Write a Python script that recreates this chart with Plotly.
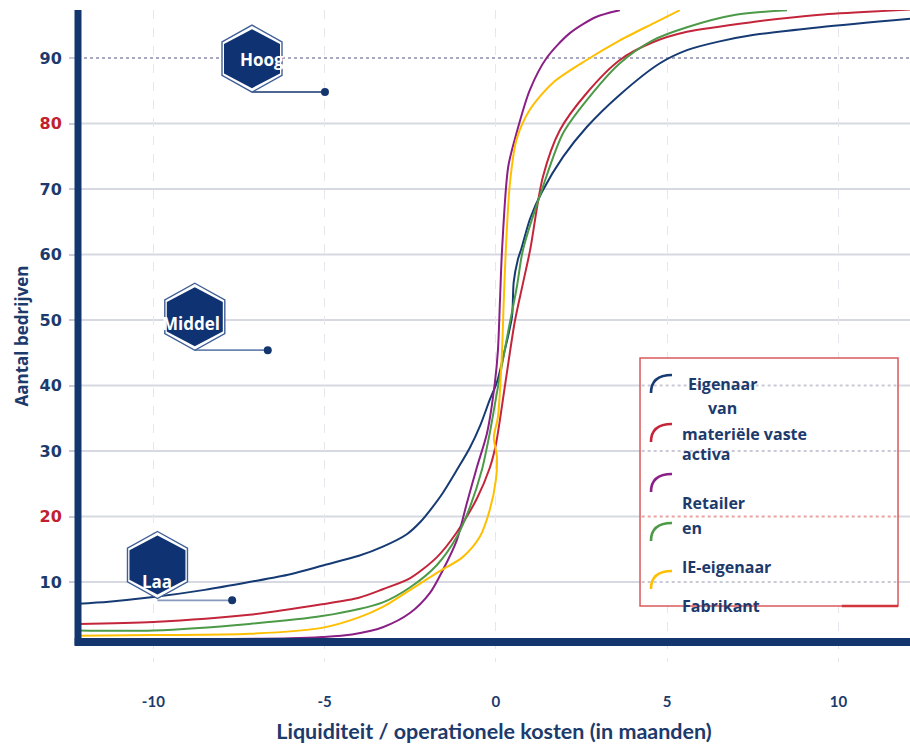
import plotly.graph_objects as go

# ---------------- data ----------------
x_ticks = [-10, -5, 0, 5, 10]
y_ticks = [10, 20, 30, 40, 50, 60, 70, 80, 90]
red_ticks = [20, 80]

series_names = ["Eigenaar van materiële vaste activa", "Retailer", "en", "IE-eigenaar", "Fabrikant"]
series_colors = ["#163a74", "#c3253a", "#8a1f86", "#4c9a47", "#ffbf00"]

blue_x = [-12.2, -11.3, -10, -8.5, -7.2, -6, -5, -4, -3.3, -2.6, -2.2, -1.9, -1.55, -1.14, -0.76,
          -0.45, -0.18, 0.03, 0.26, 0.47, 0.52, 0.64, 0.75, 1.0, 1.34, 1.96, 2.66, 3.62, 4.79,
          5.58, 6.5, 7.5, 9.46, 12.1]
blue_y = [6.7, 7.0, 7.7, 8.8, 10.0, 11.2, 12.6, 14.0, 15.4, 17.3, 19.2, 21.1, 23.6, 27.1, 30.5,
          34.0, 37.8, 40.5, 45.4, 50.5, 55.8, 59.2, 61.0, 65.5, 69.5, 74.9, 79.5, 84.4, 89.2,
          91.2, 92.5, 93.5, 94.7, 96.0]

red_x = [-12.2, -10, -7.2, -5.08, -4, -3.3, -2.5, -1.72, -1.14, -0.55, -0.18, 0.0, 0.26, 0.55,
         0.79, 1.0, 1.37, 1.87, 2.66, 3.62, 4.58, 5.58, 7.5, 9.46, 11.4, 12.1]
red_y = [3.6, 3.9, 5.0, 6.6, 7.6, 8.9, 10.6, 13.8, 17.6, 22.8, 27.4, 31.0, 39.8, 49.7,
         55.6, 60.7, 71.8, 79.0, 84.7, 89.7, 92.4, 94.0, 95.5, 96.6, 97.2, 97.4]

purple_x = [-12.2, -10, -8, -6, -5.08, -4.2, -3.3, -2.5, -1.93, -1.55, -1.14, -0.85, -0.55, -0.26,
            -0.03, 0.06, 0.12, 0.18, 0.36, 0.6, 0.99, 1.48, 2.16, 2.94, 3.62]
purple_y = [1.3, 1.3, 1.3, 1.4, 1.6, 2.0, 3.1, 5.3, 8.3, 11.8, 16.4, 22.0, 27.6, 32.7,
            40.4, 45.4, 53.0, 60.7, 73.4, 78.5, 85.1, 90.0, 93.8, 96.3, 97.3]

green_x = [-12.2, -10, -7.2, -5.08, -3.3, -2.5, -1.72, -1.14, -0.76, -0.41, -0.18, 0.06, 0.35,
           0.61, 0.79, 1.37, 1.96, 2.66, 3.62, 4.58, 5.58, 7.0, 8.5]
green_y = [2.6, 2.6, 3.6, 4.8, 6.9, 9.2, 12.6, 16.9, 21.4, 27.1, 32.7, 39.8, 48.0,
           55.0, 60.7, 70.3, 78.5, 83.6, 89.2, 92.7, 94.7, 96.6, 97.3]

yellow_x = [-12.2, -10, -7.2, -5.08, -4, -3.3, -2.5, -1.72, -0.97, -0.47, -0.18, 0.0, 0.03,
            -0.06, 0.06, 0.18, 0.23, 0.29, 0.41, 0.6, 0.99, 1.66, 2.65, 3.62, 4.6, 5.37]
yellow_y = [1.8, 1.9, 2.1, 3.0, 4.6, 6.2, 8.8, 11.4, 13.8, 16.9, 21.0, 25.6, 29.1,
            32.1, 35.2, 45.4, 53.0, 60.7, 70.9, 77.5, 82.1, 86.2, 89.7, 92.7, 95.3, 97.3]

# level badges (hexagon centre) and the point each one refers to
level_labels = ["Hoog", "Middel", "Laa"]
level_x = [-7.12, -8.79, -9.88]
level_y = [89.9, 50.5, 12.6]
point_x = [-4.99, -6.66, -7.7]
point_y = [84.8, 45.4, 7.2]

legend_lines = ["Eigenaar", "van", "materiële vaste", "activa", "Retailer", "en", "IE-eigenaar", "Fabrikant"]

# ---------------- styles ----------------
NAVY = "#14366f"
TEXT = "#1d3a6c"
RED_TXT = "#c0202f"
GRID = "#d6d9e1"

fig = go.Figure()

curves = [(blue_x, blue_y), (red_x, red_y), (purple_x, purple_y), (green_x, green_y), (yellow_x, yellow_y)]
for (xs, ys), name, col in zip(curves, series_names, series_colors):
    fig.add_trace(go.Scatter(x=xs, y=ys, mode="lines", name=name, showlegend=False,
                             line=dict(color=col, width=2, shape="spline", smoothing=0.8)))

# connectors from each badge to its point
conn_colors = [NAVY, "#6c84b0", "#8799bd"]
for hx, px, py, cc in zip(level_x, point_x, point_y, conn_colors):
    fig.add_trace(go.Scatter(x=[hx, px], y=[py, py], mode="lines", showlegend=False,
                             hoverinfo="skip", line=dict(color=cc, width=1.6)))
fig.add_trace(go.Scatter(x=point_x, y=point_y, mode="markers", showlegend=False,
                         text=level_labels, marker=dict(color=NAVY, size=8)))

shapes = []
# horizontal grid
for v in y_ticks:
    if v == 90:
        shapes.append(dict(type="line", xref="paper", x0=0, x1=1, yref="y", y0=v, y1=v,
                           layer="below", line=dict(color="#a9a9c4", width=2, dash="dot")))
    else:
        shapes.append(dict(type="line", xref="paper", x0=0, x1=1, yref="y", y0=v, y1=v,
                           layer="below", line=dict(color=GRID, width=2)))

# heavy axis bars
shapes.append(dict(type="line", xref="paper", x0=-0.004, x1=1, yref="y", y0=0.84, y1=0.84,
                   layer="above", line=dict(color=NAVY, width=8)))
shapes.append(dict(type="line", xref="paper", x0=0, x1=0, yref="y", y0=0.3, y1=97.4,
                   layer="above", line=dict(color=NAVY, width=7)))

# badges: outer outline + filled inner hexagon
def hex_path(w, h):
    return (f"M0,{h} L{w},{h/2} L{w},{-h/2} L0,{-h} L{-w},{-h/2} L{-w},{h/2} Z")

for hx, hy in zip(level_x, level_y):
    shapes.append(dict(type="path", xref="x", yref="y", xsizemode="pixel", ysizemode="pixel",
                       xanchor=hx, yanchor=hy, path=hex_path(30, 33.5), layer="above",
                       fillcolor="white", line=dict(color="#3f5f96", width=1.4)))
    shapes.append(dict(type="path", xref="x", yref="y", xsizemode="pixel", ysizemode="pixel",
                       xanchor=hx, yanchor=hy, path=hex_path(28, 29.5), layer="above",
                       fillcolor="#0f3372", line=dict(width=0)))

# custom legend box
L0, L1, B0, B1 = 0.6755, 0.9856, 0.0859, 0.4663
shapes.append(dict(type="rect", xref="paper", yref="paper", x0=L0, x1=L1, y0=B0, y1=B1,
                   layer="above", fillcolor="white", line=dict(color="#d9595a", width=1.5)))
for v in [40, 30, 20, 10]:
    col = "#eaa3a3" if v == 20 else "#c9cad6"
    shapes.append(dict(type="line", xref="paper", x0=L0 + 0.002, x1=L1 - 0.002, yref="y", y0=v, y1=v,
                       layer="above", line=dict(color=col, width=2, dash="dot")))
shapes.append(dict(type="line", xref="paper", x0=0.918, x1=L1, yref="paper", y0=B0, y1=B0,
                   layer="above", line=dict(color="#d2353a", width=2.5)))

icon_bottoms = [0.4126, 0.3374, 0.2607, 0.1856, 0.1120]
ix0, ix1, ih = 0.6887, 0.7139, 0.0276
for yb, col in zip(icon_bottoms, series_colors):
    shapes.append(dict(type="path", xref="paper", yref="paper", layer="above",
                       path=f"M{ix0},{yb} Q{ix0},{yb + ih} {ix1},{yb + ih}",
                       line=dict(color=col, width=2.6)))

annotations = []
badge_shift = [(10, -1), (-3.5, -6.5), (0, -17)]
for lab, hx, hy, (dx, dy) in zip(level_labels, level_x, level_y, badge_shift):
    annotations.append(dict(x=hx, y=hy, xref="x", yref="y", text=lab, showarrow=False,
                            xshift=dx, yshift=dy,
                            font=dict(family="Open Sans", size=17, weight=700, color="white")))

legend_pos = [(0.7752, 0.4264, "center"), (0.7752, 0.3896, "center"), (0.7236, 0.3497, "left"),
              (0.7236, 0.3190, "left"), (0.7236, 0.2439, "left"), (0.7236, 0.2055, "left"),
              (0.7236, 0.1457, "left"), (0.7236, 0.0859, "left")]
for txt, (lx, ly, anc) in zip(legend_lines, legend_pos):
    annotations.append(dict(x=lx, y=ly, xref="paper", yref="paper", text=txt, showarrow=False,
                            xanchor=anc, yanchor="middle",
                            font=dict(family="Open Sans", size=16, weight=700, color=TEXT)))

y_text = [f"<span style='color:{RED_TXT}'>{v}</span>" if v in red_ticks else str(v) for v in y_ticks]

fig.update_layout(
    width=910, height=744,
    margin=dict(l=78, r=0, t=10, b=82),
    plot_bgcolor="white", paper_bgcolor="white",
    shapes=shapes, annotations=annotations,
    xaxis=dict(range=[-12.2, 12.09], tickvals=x_ticks, ticktext=[str(v) for v in x_ticks],
               showline=False, zeroline=False, ticks="", showgrid=True,
               gridcolor="#e6e6ec", griddash="dash", gridwidth=1, ticklabelstandoff=29,
               tickfont=dict(family="Lato", size=15, weight=700, color=TEXT),
               title=dict(text="Liquiditeit / operationele kosten (in maanden)", standoff=15,
                          font=dict(family="Lato", size=21.5, weight=700, color=TEXT))),
    yaxis=dict(range=[-2.21, 97.33], tickvals=y_ticks, ticktext=y_text,
               showline=False, zeroline=False, showgrid=False,
               ticks="outside", ticklen=8, tickwidth=2, tickcolor="#c9ccd6", ticklabelstandoff=4,
               tickfont=dict(family="DejaVu Sans", size=16, weight=700, color=TEXT),
               title=dict(text="Aantal bedrijven", standoff=6,
                          font=dict(family="Open Sans", size=17, weight=700, color=TEXT))),
)

fig.write_html("out.html")
